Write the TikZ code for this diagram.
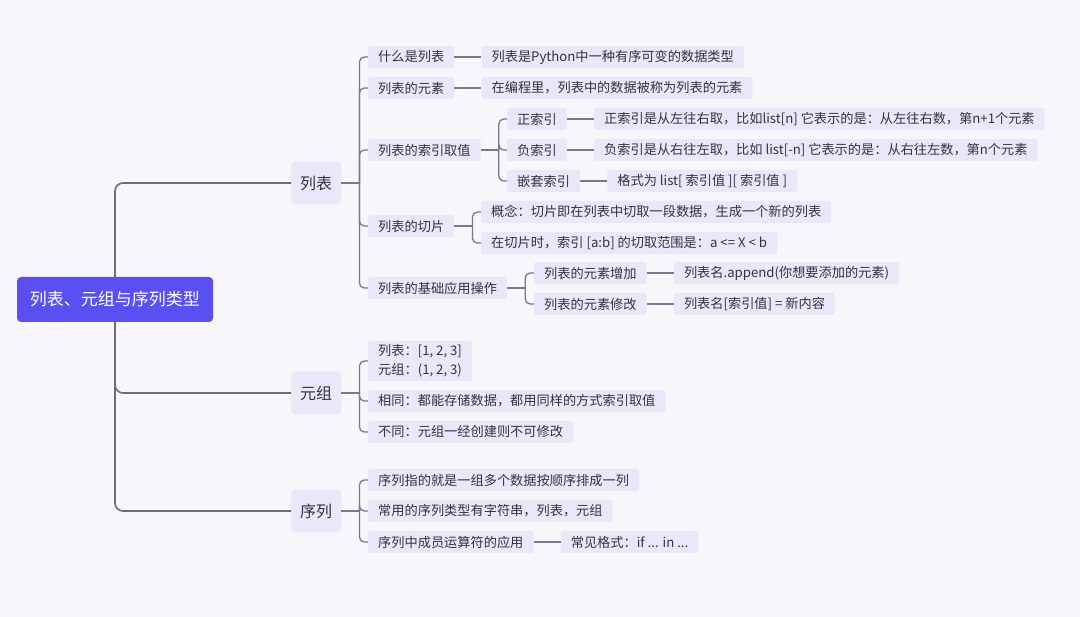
\documentclass[tikz,border=0pt]{standalone}
\usepackage{fontspec}
\setmainfont{Noto Sans CJK SC}
\usepackage{xcolor}
\usetikzlibrary{positioning, calc}

\definecolor{bgcol}{HTML}{F6F6FB}
\definecolor{boxcol}{HTML}{E9E8F9}
\definecolor{rootcol}{HTML}{5A4FF0}
\definecolor{txtcol}{HTML}{33333F}
\definecolor{trunkcol}{HTML}{6E6E72}
\definecolor{linkcol}{HTML}{7E7690}

\begin{document}
\begin{tikzpicture}[
  x=1pt, y=-1pt,
  node distance=27pt,
  item/.style={rectangle, rounded corners=2pt, fill=boxcol, text=txtcol, inner xsep=10pt, inner ysep=0pt, minimum height=22pt, anchor=west, font=\fontsize{13.2}{19}\selectfont},
  topic/.style={item, rounded corners=4pt, inner xsep=9pt, minimum height=43pt, font=\fontsize{16}{20}\selectfont},
  rootbox/.style={rectangle, rounded corners=4pt, fill=rootcol, text=white, inner xsep=13pt, minimum height=45pt, font=\fontsize{17}{20}\selectfont},
  trunk/.style={draw=trunkcol, line width=1.6pt, rounded corners=8pt},
  link/.style={draw=linkcol, line width=1.3pt, rounded corners=5pt},
]
  % Background
  \fill[bgcol] (0,0) rectangle (1080,617);
  \useasboundingbox (0,0) rectangle (1080,617);

  % Root and main topics
  \node[rootbox] (root) at (115,299.5) {列表、元组与序列类型};
  \node[topic] (list) at (291,183) {列表};
  \node[topic] (tuple) at (291,393) {元组};
  \node[topic] (seq) at (291,511) {序列};

  % List branch
  \node[item] (whatis) at (368,57) {什么是列表};
  \node[item, right=of whatis] (whatisA) {列表是Python中一种有序可变的数据类型};
  \node[item] (elem) at (368,88) {列表的元素};
  \node[item, right=of elem] (elemA) {在编程里，列表中的数据被称为列表的元素};
  \node[item] (index) at (368,150) {列表的索引取值};
  \node[item] (posidx) at (507,119) {正索引};
  \node[item, right=of posidx] (posidxA) {正索引是从左往右取，比如list[n] 它表示的是：从左往右数，第n+1个元素};
  \node[item] (negidx) at (507,150) {负索引};
  \node[item, right=of negidx] (negidxA) {负索引是从右往左取，比如 list[-n] 它表示的是：从右往左数，第n个元素};
  \node[item] (nestidx) at (507,181) {嵌套索引};
  \node[item, right=of nestidx] (nestidxA) {格式为 list[ 索引值 ][ 索引值 ]};
  \node[item] (slice) at (368,226) {列表的切片};
  \node[item] (sliceA) at (481,212) {概念：切片即在列表中切取一段数据，生成一个新的列表};
  \node[item] (sliceB) at (481,243) {在切片时，索引 [a:b] 的切取范围是：a <= X < b};
  \node[item] (ops) at (368,288) {列表的基础应用操作};
  \node[item] (opsadd) at (534,273) {列表的元素增加};
  \node[item, right=of opsadd] (opsaddA) {列表名.append(你想要添加的元素)};
  \node[item] (opsmod) at (534,304) {列表的元素修改};
  \node[item, right=of opsmod] (opsmodA) {列表名[索引值] = 新内容};

  % Tuple branch
  \node[item, align=left, minimum height=40pt] (compare) at (368,361) {列表：[1, 2, 3]\\元组：(1, 2, 3)};
  \node[item] (same) at (368,401) {相同：都能存储数据，都用同样的方式索引取值};
  \node[item] (diff) at (368,432) {不同：元组一经创建则不可修改};

  % Sequence branch
  \node[item] (seqdef) at (368,480) {序列指的就是一组多个数据按顺序排成一列};
  \node[item] (seqtype) at (368,511) {常用的序列类型有字符串，列表，元组};
  \node[item] (member) at (368,542) {序列中成员运算符的应用};
  \node[item, right=of member] (memberA) {常见格式：if ... in ...};

  % Root connectors
  \draw[trunk] (root.north) |- (list.west);
  \draw[trunk] (root.south) |- (tuple.west);
  \draw[trunk] (root.south) |- (seq.west);

  % Branch connectors
  \foreach \p/\kids in {list/{whatis,elem,index,slice,ops}, index/{posidx,negidx,nestidx},
                        slice/{sliceA,sliceB}, ops/{opsadd,opsmod},
                        tuple/{compare,same,diff}, seq/{seqdef,seqtype,member}} {
    \draw[link] (\p.east) -- ++(18pt,0);
    \foreach \k in \kids
      \draw[link] ($(\p.east)+(18pt,0)$) |- (\k.west);
  }

  % Leaf connectors
  \foreach \a/\b in {whatis/whatisA, elem/elemA, posidx/posidxA, negidx/negidxA,
                     nestidx/nestidxA, opsadd/opsaddA, opsmod/opsmodA, member/memberA}
    \draw[link] (\a.east) -- (\b.west);
\end{tikzpicture}
\end{document}
